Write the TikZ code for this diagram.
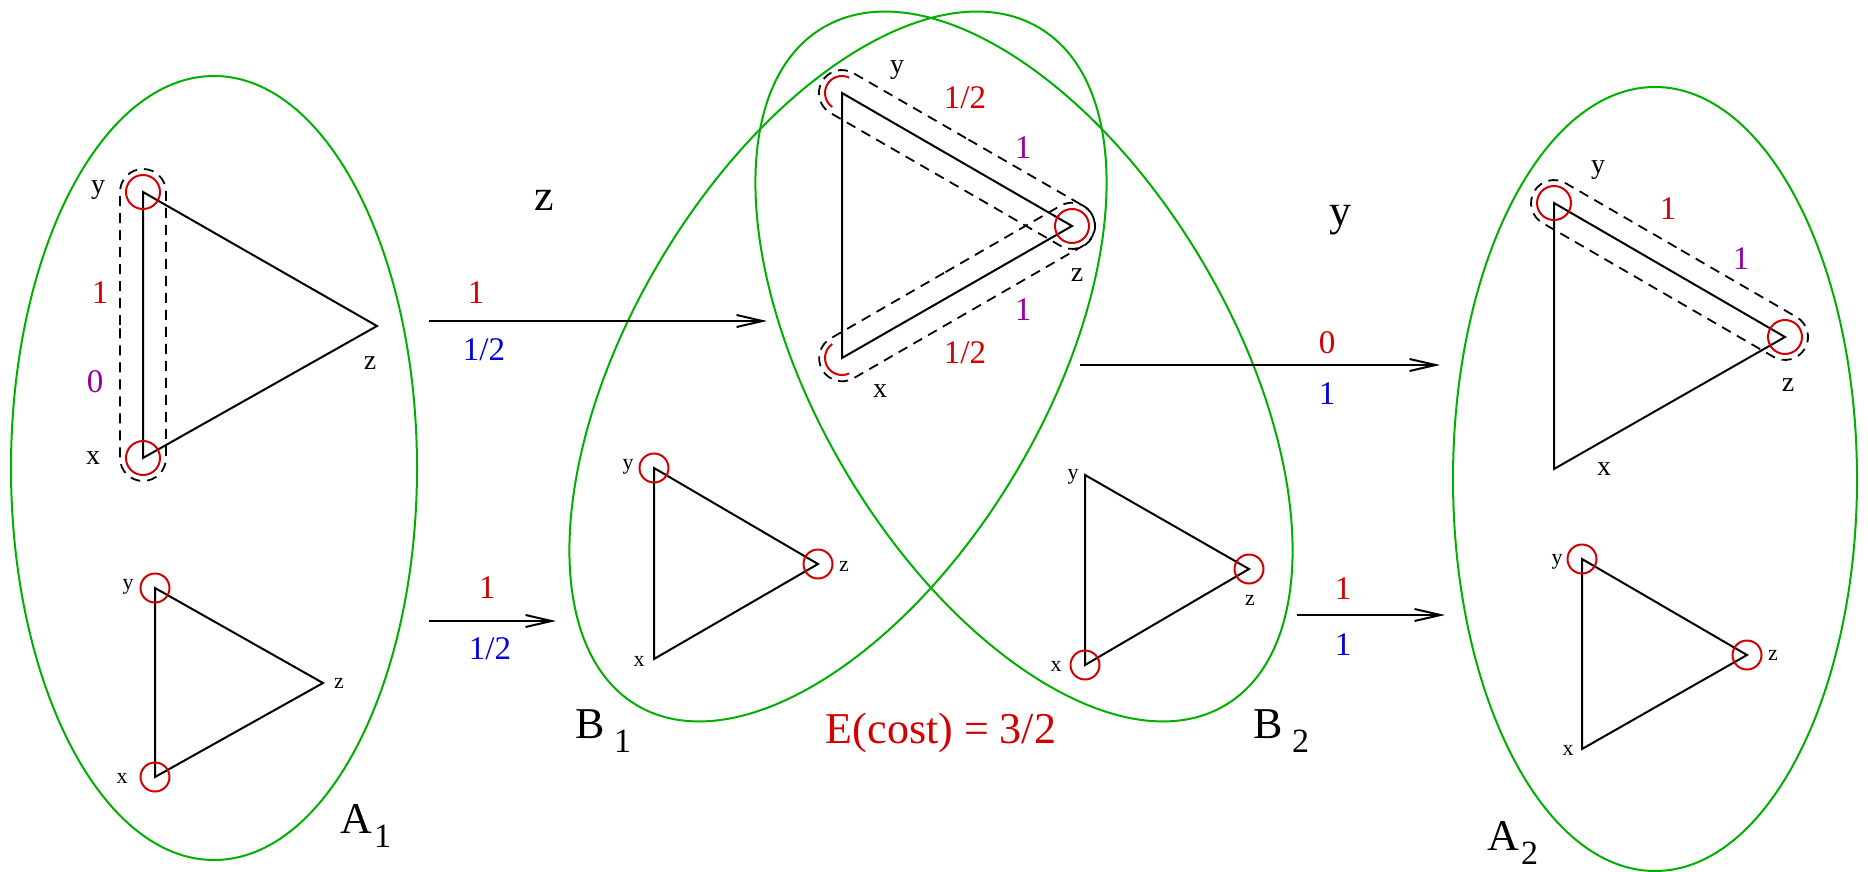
\documentclass[tikz,border=0pt]{standalone}
\usepackage{fontspec}
\setmainfont{Liberation Serif}
\usetikzlibrary{positioning,arrows.meta,calc,shapes.geometric,shapes.misc}

\definecolor{cred}{RGB}{210,0,0}
\definecolor{cblue}{RGB}{0,0,215}
\definecolor{cpurple}{RGB}{150,0,160}
\definecolor{cgreen}{RGB}{0,175,0}

\newcommand{\setlbl}[2]{#1\kern1pt\raisebox{-0.32em}{\fontsize{17}{17}\selectfont #2}}

\tikzset{
  edge/.style    = {line width=1pt},
  vmark/.style   = {circle, draw=cred, line width=1pt, minimum size=17pt, inner sep=0pt},
  vmarksm/.style = {vmark, minimum size=14.5pt},
  pairbox/.style = {rounded rectangle, draw, dash pattern=on 5pt off 3.5pt,
                    line width=0.9pt, minimum height=23pt, inner sep=0pt},
  group/.style   = {ellipse, draw=cgreen, line width=1pt, inner sep=0pt},
  move/.style    = {-{Straight Barb[length=13pt,width=6pt]}, line width=1pt},
  vlbl/.style    = {font=\fontsize{14}{14}\selectfont, inner sep=0pt},
  vlblsm/.style  = {font=\fontsize{11}{11}\selectfont, inner sep=0pt},
  num/.style     = {font=\fontsize{16.5}{16.5}\selectfont, inner sep=0pt},
  big/.style     = {font=\fontsize{22}{22}\selectfont, inner sep=0pt}
}

\begin{document}
\begin{tikzpicture}[x=0.5pt, y=-0.5pt]
  \useasboundingbox (0,0) rectangle (1868,872);

  % The four green sets.
  \node[group, minimum width=203pt, minimum height=392pt] (setA1) at (214,468) {};
  \node[group, minimum width=202pt, minimum height=392pt] (setA2) at (1655,479) {};
  \node[group, minimum width=207pt, minimum height=394pt, rotate=-30.7] (setB1) at (838,366.5) {};
  \node[group, minimum width=207pt, minimum height=394pt, rotate=30.7]  (setB2) at (1024,366.5) {};

  % Set names.
  \node[big, anchor=base west] (lA1) at (340,833) {\setlbl{A}{1}};
  \node[big, anchor=base west] (lA2) at (1487,850) {\setlbl{A}{2}};
  \node[big, anchor=base west] (lB1) at (575,738) {\setlbl{B\,}{1}};
  \node[big, anchor=base west] (lB2) at (1253,738) {\setlbl{B\,}{2}};
  \node[big, text=cred, anchor=base] (cost) at (941,743) {E(cost) = 3/2};

  % A1, upper triangle: pair {x,y}.
  \coordinate (Y1) at (143,192);
  \coordinate (X1) at (143,458);
  \coordinate (Z1) at (377,326);
  \draw[edge] (Y1) -- (Z1) -- (X1) -- cycle;
  \node[vmark] (mY1) at (Y1) {};
  \node[vmark] (mX1) at (X1) {};
  \node[pairbox, minimum width=156pt, rotate=90] (pXY1) at ($(Y1)!0.5!(X1)$) {};
  \node[vlbl] (ly1) at (98,190) {y};
  \node[vlbl] (lx1) at (93,458) {x};
  \node[vlbl] (lz1) at (370,363) {z};
  \node[num, text=cred]    (n1a) at (100,293) {1};
  \node[num, text=cpurple] (n1b) at (95,382) {0};

  % A1, lower triangle.
  \coordinate (Y2) at (155,588);
  \coordinate (X2) at (155,777);
  \coordinate (Z2) at (323,683);
  \draw[edge] (Y2) -- (Z2) -- (X2) -- cycle;
  \node[vmarksm] (mY2) at (Y2) {};
  \node[vmarksm] (mX2) at (X2) {};
  \node[vlblsm] (ly2) at (128,587) {y};
  \node[vlblsm] (lx2) at (122,778) {x};
  \node[vlblsm] (lz2) at (339,683) {z};

  % Middle triangle shared by B1 and B2: pairs {y,z} and {x,z}.
  \coordinate (Y3) at (842,93);
  \coordinate (X3) at (842,358);
  \coordinate (Z3) at (1072,226);
  \draw[edge] (Y3) -- (Z3) -- (X3) -- cycle;
  \draw[cred, line width=1pt] ($(Y3)+(295:17)$) arc[start angle=295, end angle=125, radius=17];
  \draw[cred, line width=1pt] ($(X3)+(235:17)$) arc[start angle=235, end angle=65, radius=17];
  \node[vmark] (mZ3) at (Z3) {};
  \node[pairbox, minimum width=155.9pt, rotate=-30] (pYZ3) at ($(Y3)!0.5!(Z3)$) {};
  \node[pairbox, minimum width=155.6pt, rotate=30]  (pXZ3) at ($(X3)!0.5!(Z3)$) {};
  \node[vlbl] (ly3) at (897,70) {y};
  \node[vlbl] (lx3) at (880,391) {x};
  \node[vlbl] (lz3) at (1077,275) {z};
  \node[num, text=cred]    (n3a) at (965,98) {1/2};
  \node[num, text=cpurple] (n3b) at (1023,148) {1};
  \node[num, text=cpurple] (n3c) at (1023,310) {1};
  \node[num, text=cred]    (n3d) at (965,353) {1/2};

  % B1 triangle.
  \coordinate (Y4) at (654,468);
  \coordinate (X4) at (654,659);
  \coordinate (Z4) at (818,564);
  \draw[edge] (Y4) -- (Z4) -- (X4) -- cycle;
  \node[vmarksm] (mY4) at (Y4) {};
  \node[vmarksm] (mZ4) at (Z4) {};
  \node[vlblsm] (ly4) at (628,467) {y};
  \node[vlblsm] (lx4) at (639,661) {x};
  \node[vlblsm] (lz4) at (844,566) {z};

  % B2 triangle.
  \coordinate (Y5) at (1085,475);
  \coordinate (X5) at (1085,665);
  \coordinate (Z5) at (1249,569);
  \draw[edge] (Y5) -- (Z5) -- (X5) -- cycle;
  \node[vmarksm] (mX5) at (X5) {};
  \node[vmarksm] (mZ5) at (Z5) {};
  \node[vlblsm] (ly5) at (1073,477) {y};
  \node[vlblsm] (lx5) at (1056,666) {x};
  \node[vlblsm] (lz5) at (1250,600) {z};

  % A2, upper triangle: pair {y,z}.
  \coordinate (Y6) at (1554,203);
  \coordinate (X6) at (1554,469);
  \coordinate (Z6) at (1785,337);
  \draw[edge] (Y6) -- (Z6) -- (X6) -- cycle;
  \node[vmark] (mY6) at (Y6) {};
  \node[vmark] (mZ6) at (Z6) {};
  \node[pairbox, minimum width=156.5pt, rotate=-30.1] (pYZ6) at ($(Y6)!0.5!(Z6)$) {};
  \node[vlbl] (ly6) at (1598,170) {y};
  \node[vlbl] (lx6) at (1604,469) {x};
  \node[vlbl] (lz6) at (1788,385) {z};
  \node[num, text=cred]    (n6a) at (1668,209) {1};
  \node[num, text=cpurple] (n6b) at (1741,259) {1};

  % A2, lower triangle.
  \coordinate (Y7) at (1582,559);
  \coordinate (X7) at (1582,749);
  \coordinate (Z7) at (1747,655);
  \draw[edge] (Y7) -- (Z7) -- (X7) -- cycle;
  \node[vmarksm] (mY7) at (Y7) {};
  \node[vmarksm] (mZ7) at (Z7) {};
  \node[vlblsm] (ly7) at (1557,562) {y};
  \node[vlblsm] (lx7) at (1568,750) {x};
  \node[vlblsm] (lz7) at (1773,655) {z};

  % Moves between the sets.
  \coordinate (m1s) at (429,321);
  \coordinate (m1e) at (767,321);
  \coordinate (m2s) at (429,621);
  \coordinate (m2e) at (556,621);
  \coordinate (m3s) at (1080,365);
  \coordinate (m3e) at (1440,365);
  \coordinate (m4s) at (1297,615);
  \coordinate (m4e) at (1445,615);
  \draw[move] (m1s) -- (m1e);
  \draw[move] (m2s) -- (m2e);
  \draw[move] (m3s) -- (m3e);
  \draw[move] (m4s) -- (m4e);

  \node[big] (qz) at (544,200) {z};
  \node[big] (qy) at (1340,220) {y};
  \node[num, text=cred]  (w1a) at (476,293) {1};
  \node[num, text=cblue] (w1b) at (484,350) {1/2};
  \node[num, text=cred]  (w2a) at (487,588) {1};
  \node[num, text=cblue] (w2b) at (490,649) {1/2};
  \node[num, text=cred]  (w3a) at (1327,343) {0};
  \node[num, text=cblue] (w3b) at (1327,394) {1};
  \node[num, text=cred]  (w4a) at (1343,589) {1};
  \node[num, text=cblue] (w4b) at (1343,645) {1};

\end{tikzpicture}
\end{document}
